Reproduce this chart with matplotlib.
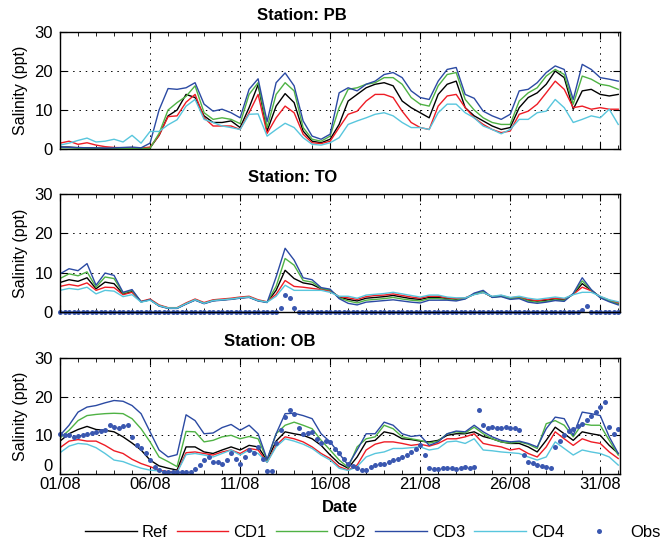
import matplotlib.pyplot as plt
from matplotlib.ticker import MultipleLocator
import numpy as np

plt.rcParams['font.family'] = ['Liberation Sans', 'DejaVu Sans']

# time in days since 01/08: model output every 12 h, observations every 6 h
days = np.arange(0, 31.01, 0.5)
obs_days = np.arange(0, 31.01, 0.25)

tick_days = [0, 5, 10, 15, 20, 25, 30]
tick_labels = ['01/08', '06/08', '11/08', '16/08', '21/08', '26/08', '31/08']

series_names = ['Ref', 'CD1', 'CD2', 'CD3', 'CD4']
series_colors = ['#000000', '#ee1c25', '#4fb244', '#2b4aa3', '#58c6dd']
obs_color = '#3a57b0'

# ---- Station PB
pb_ref = [0.5, 0.5, 0.3, 0.3, 0.2, 0.2, 0.2, 0.2, 0.2, 0.1, 0.3, 3.5, 8.5, 10.0, 14.0, 13.2,
          8.5, 6.8, 6.8, 7.2, 5.5, 10.6, 16.5, 4.6, 11.0, 14.2, 11.9, 4.6, 2.0, 1.6, 2.5, 6.3,
          12.3, 14.0, 15.7, 16.6, 17.0, 16.2, 12.3, 10.6, 9.3, 8.0, 14.0, 16.6, 17.4, 10.6,
          8.5, 7.2, 5.9, 5.0, 5.5, 10.6, 13.2, 14.4, 16.6, 20.0, 18.3, 10.2, 14.9, 15.3, 14.0,
          13.6, 14.0]
pb_cd1 = [1.5, 2.0, 1.2, 1.6, 1.0, 0.6, 0.4, 0.3, 0.2, 0.2, 0.5, 3.5, 8.3, 8.5, 12.0, 14.0,
          8.0, 5.9, 5.9, 5.9, 5.0, 9.3, 14.0, 4.0, 8.0, 11.0, 9.3, 3.8, 1.6, 1.4, 2.0, 5.5,
          8.9, 9.7, 12.3, 14.0, 14.0, 13.2, 9.7, 6.8, 5.5, 5.0, 11.0, 13.6, 14.0, 10.6,
          8.0, 6.3, 5.0, 4.2, 4.6, 8.9, 9.7, 11.5, 14.4, 17.4, 15.3, 10.6, 11.0, 10.2, 10.6,
          10.2, 10.2]
pb_cd2 = [0.3, 0.3, 0.2, 0.2, 0.2, 0.1, 0.1, 0.1, 0.1, 0.1, 0.2, 4.0, 10.0, 11.9, 13.5, 16.2,
          9.3, 7.6, 8.0, 7.6, 6.5, 14.0, 17.0, 5.5, 14.0, 17.0, 14.9, 5.5, 2.5, 2.0, 3.3, 10.6,
          15.3, 15.7, 16.6, 17.0, 18.3, 18.3, 16.6, 13.2, 11.5, 11.0, 16.2, 19.1, 19.6, 12.7,
          10.0, 8.0, 6.8, 6.3, 6.3, 12.3, 14.4, 15.7, 18.7, 20.4, 19.1, 11.5, 18.7, 17.9, 16.6,
          16.2, 15.3]
pb_cd3 = [0.5, 0.4, 0.4, 0.3, 0.3, 0.2, 0.3, 0.4, 0.5, 0.3, 1.5, 10.0, 15.5, 15.3, 15.7, 17.0,
          11.5, 9.7, 10.2, 9.3, 8.0, 15.3, 18.0, 7.0, 17.0, 19.5, 16.2, 7.2, 3.3, 2.5, 3.8, 14.4,
          15.7, 14.9, 16.6, 17.4, 19.1, 19.6, 18.3, 14.9, 13.2, 12.7, 17.4, 20.4, 20.9, 14.0,
          13.0, 9.7, 8.5, 7.6, 8.9, 14.9, 15.3, 17.0, 19.6, 21.3, 20.4, 12.7, 21.7, 20.4, 18.3,
          17.9, 17.4]
pb_cd4 = [1.0, 1.5, 2.2, 2.8, 1.8, 2.0, 2.5, 1.8, 3.5, 1.5, 4.5, 4.5, 6.2, 7.5, 11.0, 12.7,
          7.6, 6.8, 5.9, 5.5, 5.0, 8.9, 9.0, 3.3, 5.0, 6.6, 5.5, 2.9, 1.2, 1.0, 1.6, 2.9,
          6.3, 7.2, 8.0, 8.9, 9.3, 8.5, 6.8, 5.5, 5.5, 5.0, 9.3, 11.5, 11.5, 9.3,
          8.0, 5.9, 5.0, 3.9, 5.0, 7.6, 7.6, 9.3, 9.7, 12.7, 10.6, 6.8, 7.6, 8.5, 8.0,
          10.2, 6.3]

# ---- Station TO
to_ref = [7.5, 8.2, 7.8, 8.7, 5.9, 7.6, 7.2, 4.6, 5.2, 2.6, 3.1, 1.6, 1.0, 1.0, 2.1, 3.1,
          2.2, 2.9, 3.1, 3.3, 3.6, 3.8, 2.9, 2.5, 5.5, 10.6, 8.5, 7.4, 7.0, 5.9, 5.5, 3.8,
          3.2, 2.8, 3.5, 3.7, 3.9, 4.2, 3.8, 3.4, 3.2, 3.7, 3.7, 3.4, 3.2, 3.5,
          4.5, 5.0, 3.8, 4.1, 3.5, 3.7, 3.0, 2.7, 3.0, 3.3, 3.1, 4.5, 7.2, 5.5, 3.8,
          2.9, 2.2]
to_cd1 = [6.5, 7.0, 6.6, 7.4, 5.5, 6.3, 6.2, 4.4, 5.0, 2.7, 3.3, 1.8, 1.1, 1.1, 2.3, 3.3,
          2.4, 3.1, 3.3, 3.5, 3.8, 4.0, 3.1, 2.6, 4.5, 8.0, 6.5, 6.3, 6.0, 5.7, 5.3, 3.9,
          3.6, 3.2, 3.9, 4.2, 4.3, 4.6, 4.2, 3.8, 3.5, 4.0, 4.0, 3.6, 3.4, 3.6,
          4.5, 5.0, 3.9, 4.2, 3.6, 3.8, 3.2, 2.9, 3.2, 3.5, 3.3, 4.5, 6.3, 5.4, 3.9,
          3.0, 2.3]
to_cd2 = [8.5, 9.7, 9.2, 10.2, 6.3, 8.9, 8.5, 4.8, 5.5, 2.6, 3.1, 1.6, 1.0, 1.0, 2.1, 3.1,
          2.2, 2.9, 3.1, 3.3, 3.6, 3.8, 2.9, 2.5, 6.5, 13.6, 11.9, 8.0, 7.6, 6.0, 5.6, 3.6,
          2.8, 2.3, 3.0, 3.2, 3.4, 3.7, 3.3, 3.0, 2.8, 3.4, 3.4, 3.2, 3.0, 3.4,
          4.6, 5.2, 3.8, 4.0, 3.4, 3.6, 2.8, 2.5, 2.7, 3.1, 2.9, 4.6, 7.9, 5.6, 3.7,
          2.8, 2.0]
to_cd3 = [9.7, 11.0, 10.5, 12.3, 6.8, 9.9, 9.3, 5.0, 5.7, 2.6, 3.1, 1.5, 0.9, 0.9, 2.0, 3.0,
          2.1, 2.8, 3.0, 3.2, 3.5, 3.7, 2.8, 2.4, 8.9, 16.2, 13.2, 8.7, 8.2, 6.2, 5.8, 3.4,
          2.2, 1.8, 2.5, 2.7, 2.9, 3.1, 2.8, 2.5, 2.3, 3.0, 3.0, 3.0, 2.8, 3.3,
          4.8, 5.5, 3.7, 3.9, 3.2, 3.4, 2.5, 2.2, 2.5, 2.9, 2.7, 4.7, 8.7, 5.7, 3.6,
          2.6, 1.8]
to_cd4 = [5.5, 6.0, 5.7, 6.3, 4.6, 5.5, 5.3, 3.9, 4.4, 2.5, 3.0, 1.6, 1.0, 1.0, 2.1, 3.1,
          2.2, 2.9, 3.1, 3.3, 3.6, 3.8, 2.9, 2.5, 4.0, 6.8, 5.5, 5.5, 5.5, 5.5, 5.0, 4.0,
          4.0, 3.5, 4.3, 4.5, 4.7, 5.0, 4.6, 4.2, 3.8, 4.3, 4.3, 3.8, 3.6, 3.6,
          4.4, 4.9, 4.0, 4.3, 3.7, 4.0, 3.5, 3.2, 3.5, 3.8, 3.5, 4.4, 5.0, 5.0, 4.0,
          3.1, 2.6]
to_obs = [0.0] * 49 + [1.0, 4.2, 3.5, 1.0] + [0.0] * 63 + [0.5, 1.5] + [0.0] * 7

# ---- Station OB
ob_ref = [8.5, 10.4, 11.5, 12.3, 11.5, 11.3, 10.9, 9.6, 8.0, 6.2, 3.6, 2.1, 1.5, 1.0, 7.0, 7.0,
          5.7, 5.3, 6.2, 7.0, 6.2, 7.4, 7.0, 3.5, 8.5, 10.9, 10.4, 10.0, 9.1, 7.4, 4.9, 2.7,
          1.5, 4.4, 8.3, 8.7, 10.9, 10.4, 9.1, 8.9, 8.5, 8.3, 8.7, 10.0, 10.4, 10.4,
          10.9, 9.7, 9.1, 8.3, 7.9, 7.9, 7.0, 5.7, 8.7, 12.1, 10.4, 8.7, 10.9, 10.4, 10.0,
          7.4, 5.3]
ob_cd1 = [6.8, 8.5, 8.9, 8.5, 8.5, 7.4, 6.0, 5.3, 3.8, 2.7, 1.9, 1.0, 0.6, 0.5, 5.5, 5.7,
          5.3, 4.9, 5.7, 6.2, 5.3, 6.6, 6.2, 3.0, 7.4, 9.6, 9.1, 8.3, 7.0, 5.3, 4.0, 1.9,
          1.0, 2.3, 6.2, 7.7, 8.3, 8.3, 7.9, 7.4, 7.7, 7.2, 7.9, 9.1, 9.1, 9.6,
          10.4, 7.9, 7.4, 7.0, 6.2, 6.6, 5.3, 4.4, 7.0, 10.9, 9.1, 7.4, 9.1, 8.3, 7.9,
          5.7, 4.0]
ob_cd2 = [9.3, 11.3, 13.8, 15.1, 15.4, 15.6, 15.7, 15.6, 14.3, 11.7, 8.3, 4.4, 3.2, 1.9, 11.0, 10.9,
          8.3, 8.7, 9.6, 10.0, 9.1, 9.7, 9.1, 3.6, 10.4, 12.6, 13.4, 12.6, 11.7, 8.7, 6.2, 3.6,
          1.7, 7.0, 9.1, 9.6, 12.6, 11.7, 9.6, 9.1, 8.7, 8.0, 8.5, 10.4, 10.9, 10.6,
          12.1, 10.4, 9.1, 8.3, 8.0, 8.3, 7.7, 6.6, 13.0, 13.8, 12.6, 9.6, 13.0, 12.6, 12.6,
          8.7, 4.9]
ob_cd3 = [10.0, 12.6, 16.0, 17.3, 17.7, 18.4, 19.0, 18.8, 17.7, 15.6, 10.9, 6.2, 4.4, 5.0, 15.3, 13.8,
          10.4, 10.6, 12.0, 12.8, 11.3, 12.6, 10.4, 3.8, 10.4, 15.6, 15.7, 15.1, 14.3, 10.4, 8.3, 5.3,
          2.3, 6.2, 10.4, 10.4, 13.4, 12.6, 10.4, 9.7, 10.0, 7.4, 8.3, 10.4, 11.1, 10.9,
          12.6, 10.9, 9.6, 8.7, 8.3, 8.5, 7.9, 7.0, 11.7, 14.7, 14.3, 10.0, 16.0, 15.6, 15.1,
          9.6, 5.3]
ob_cd4 = [5.5, 7.2, 7.9, 7.7, 6.8, 5.3, 3.6, 3.2, 2.3, 1.5, 1.0, 0.8, 0.4, 0.4, 5.0, 5.3,
          4.9, 4.4, 5.3, 6.2, 4.9, 6.2, 5.3, 3.0, 7.0, 9.1, 8.5, 7.7, 6.6, 4.9, 3.6, 1.5,
          0.9, 1.9, 4.4, 5.3, 5.7, 6.6, 6.6, 6.8, 7.0, 6.2, 6.6, 8.3, 8.5, 7.9,
          9.1, 6.2, 6.0, 5.7, 5.5, 5.3, 4.4, 3.6, 4.4, 8.3, 6.6, 4.9, 6.2, 5.7, 5.3,
          4.4, 2.3]
ob_obs = [10.4, 10.2, 10.0, 9.6, 9.8, 10.2, 10.4, 10.6, 10.9, 11.2, 11.5, 12.6,
          12.2, 12.0, 12.4, 12.6, 9.5, 7.6, 6.6, 5.5, 3.6, 1.8, 1.0, 0.6,
          0.5, 0.4, 0.4, 0.5, 0.5, 0.6, 1.2, 2.4, 3.6, 4.4, 3.2, 3.0,
          2.7, 3.5, 5.3, 4.0, 2.7, 4.5, 6.2, 5.5, 7.0, 4.0, 0.8, 0.9,
          7.9, 11.5, 14.7, 16.5, 15.5, 12.0, 10.4, 10.6, 10.9, 9.0, 7.9, 8.5,
          8.3, 6.5, 5.3, 3.8, 2.7, 2.0, 1.5, 1.0, 1.0, 1.8, 2.3, 2.5,
          2.7, 3.0, 3.6, 4.0, 4.4, 5.0, 5.7, 6.5, 7.4, 5.0, 1.5, 1.2,
          1.3, 1.5, 1.6, 1.5, 1.4, 1.6, 1.8, 1.5, 1.7, 16.5, 12.6, 12.0,
          12.1, 12.0, 12.0, 12.1, 12.0, 11.8, 11.5, 5.0, 3.2, 2.8, 2.3, 2.0,
          1.9, 1.6, 7.0, 8.5, 10.0, 11.0, 11.7, 12.3, 13.0, 14.0, 14.9, 16.0,
          17.3, 18.5, 12.1, 10.4, 11.7]

stations = [
    ('Station: PB', [pb_ref, pb_cd1, pb_cd2, pb_cd3, pb_cd4], None, 0.432),
    ('Station: TO', [to_ref, to_cd1, to_cd2, to_cd3, to_cd4], to_obs, 0.416),
    ('Station: OB', [ob_ref, ob_cd1, ob_cd2, ob_cd3, ob_cd4], ob_obs, 0.375),
]
# axes boxes in figure fractions [left, bottom, width, height]
positions = [[0.0904, 0.7271, 0.8434, 0.2143],
             [0.0904, 0.4286, 0.8434, 0.2161],
             [0.0904, 0.1319, 0.8434, 0.2125]]

fig = plt.figure(figsize=(6.64, 5.46), dpi=100)
for i, (title, model, obs, title_x) in enumerate(stations):
    ax = fig.add_axes(positions[i])
    for values, name, color in zip(model, series_names, series_colors):
        ax.plot(days, values, color=color, lw=1.0, label=name)
    if obs is not None:
        ax.plot(obs_days, obs, ls='none', marker='o', ms=3.6, mfc=obs_color, mec='none',
                clip_on=False, label='Obs')
    ax.set_xlim(0, 31.1)
    ax.set_ylim(0, 30)
    ax.set_yticks([0, 10, 20, 30])
    ax.set_xticks(tick_days)
    ax.xaxis.set_minor_locator(MultipleLocator(1))
    # sparse MATLAB-like dotted grid
    ax.grid(True, which='major', ls=(0, (1.5, 5)), color='k', lw=0.7)
    ax.set_axisbelow(True)
    ax.tick_params(which='both', direction='in', top=True, right=True, labelsize=12)
    ax.tick_params(which='major', length=5)
    ax.tick_params(which='minor', length=3)
    ax.tick_params(axis='y', pad=5)
    ax.tick_params(axis='x', pad=2)
    for sp in ax.spines.values():
        sp.set_linewidth(1.0)
    ax.set_ylabel('Salinity (ppt)', fontsize=11.5)
    ax.yaxis.set_label_coords(-0.057, 0.5)
    ax.text(title_x, 1.105, title, transform=ax.transAxes, ha='center', va='baseline',
            fontsize=12, fontweight='bold')
    if i < 2:
        ax.set_xticklabels([])
    else:
        ax.set_xticklabels(tick_labels)
        ax.set_xlabel('Date', fontsize=12, fontweight='bold')
        ax.xaxis.set_label_coords(0.5, -0.22)
        # lift the lowest y label so it sits above the date labels
        ax.get_yticklabels()[0].set_verticalalignment('bottom')
        handles, labels = ax.get_legend_handles_labels()

fig.legend(handles, labels, loc='center left', bbox_to_anchor=(0.128, 0.0256), ncol=6,
           frameon=False, fontsize=12, handlelength=3.1, handletextpad=0.3,
           columnspacing=0.55, borderpad=0, borderaxespad=0, numpoints=1)

fig.savefig('out.png', dpi=100)
